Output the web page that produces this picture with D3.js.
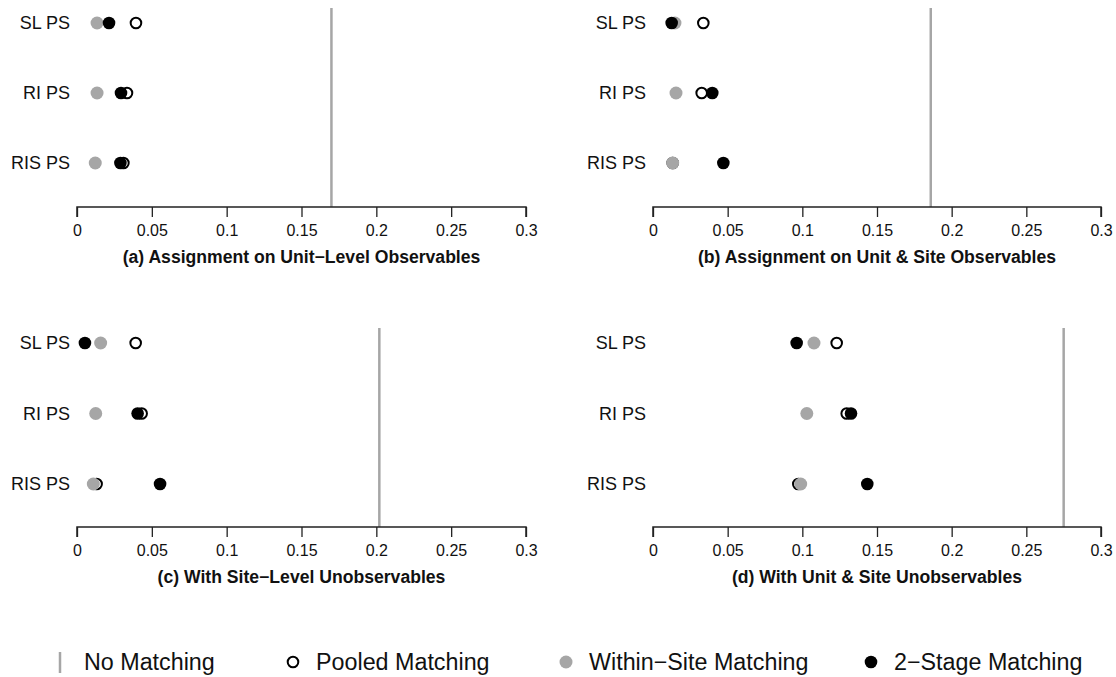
<!DOCTYPE html>
<html>
<head>
<meta charset="utf-8">
<script src="https://cdn.jsdelivr.net/npm/d3@7"></script>
<style>
  body { margin: 0; background: #fff; }
  svg { font-family: "Liberation Sans", Arial, Helvetica, sans-serif; }
</style>
</head>
<body>
<div id="chart"></div>
<script>
// datos
var methods = ["SL PS", "RI PS", "RIS PS"];
var panelTitles = [
    "(a) Assignment on Unit\u2212Level Observables",
    "(b) Assignment on Unit & Site Observables",
    "(c) With Site\u2212Level Unobservables",
    "(d) With Unit & Site Unobservables"
];
var noMatching = [0.170, 0.186, 0.202, 0.275];
// one array per panel, rows follow methods order
var pooled = [
    [0.0394, 0.0334, 0.0310],
    [0.0337, 0.0326, 0.0132],
    [0.0392, 0.0432, 0.0131],
    [0.1230, 0.1297, 0.0973]
];
var withinSite = [
    [0.0134, 0.0134, 0.0122],
    [0.0147, 0.0154, 0.0132],
    [0.0158, 0.0125, 0.0109],
    [0.1078, 0.1030, 0.0989]
];
var twoStage = [
    [0.0214, 0.0294, 0.0290],
    [0.0125, 0.0397, 0.0471],
    [0.0053, 0.0405, 0.0555],
    [0.0962, 0.1326, 0.1435]
];
var xTicks = [0, 0.05, 0.1, 0.15, 0.2, 0.25, 0.3];
var legendLabels = ["No Matching", "Pooled Matching", "Within\u2212Site Matching", "2\u2212Stage Matching"];

var grey = "#a6a6a6";
var W = 1116, H = 677;

var svg = d3.select("#chart").append("svg")
    .attr("width", W)
    .attr("height", H);

// posicion de cada panel
var panels = [
    {left: 77, right: 526, top: 8, rowTop: 23, rowBottom: 163, axisY: 207},
    {left: 653, right: 1101, top: 8, rowTop: 23, rowBottom: 163, axisY: 207},
    {left: 77, right: 526, top: 328, rowTop: 343, rowBottom: 484, axisY: 527},
    {left: 653, right: 1101, top: 328, rowTop: 343, rowBottom: 484, axisY: 527}
];

panels.forEach(function (p, i) {
    var x = d3.scaleLinear().domain([0, 0.3]).range([p.left, p.right]);
    var y = d3.scalePoint().domain(methods).range([p.rowTop, p.rowBottom]);
    var g = svg.append("g");

    // no matching line
    g.append("line")
        .attr("x1", x(noMatching[i])).attr("x2", x(noMatching[i]))
        .attr("y1", p.top).attr("y2", p.axisY)
        .attr("stroke", grey).attr("stroke-width", 2.5);

    // eje
    var axis = g.append("g")
        .attr("transform", "translate(0," + p.axisY + ")")
        .call(d3.axisBottom(x).tickValues(xTicks).tickSize(10).tickPadding(8)
            .tickFormat(function (d) { return d3.format("")(+d.toFixed(2)); }));
    axis.select(".domain").attr("stroke", "#222").attr("stroke-width", 1.5)
        .attr("d", "M" + p.left + ",10V0H" + p.right + "V10");
    axis.selectAll(".tick line").attr("stroke", "#222").attr("stroke-width", 1.3);
    axis.selectAll(".tick text").attr("font-size", 16).attr("fill", "#111")
        .attr("font-family", "Liberation Sans, Arial, sans-serif");

    // row labels
    g.selectAll(".rowlab").data(methods).enter().append("text")
        .attr("x", p.left - 7)
        .attr("y", function (d) { return y(d); })
        .attr("dy", "0.36em")
        .attr("text-anchor", "end")
        .attr("font-size", 18)
        .attr("fill", "#111")
        .text(function (d) { return d; });

    // puntos: pooled, within-site, 2-stage (black on top)
    g.selectAll(".pooled").data(pooled[i]).enter().append("circle")
        .attr("cx", function (d) { return x(d); })
        .attr("cy", function (d, j) { return y(methods[j]); })
        .attr("r", 5.3)
        .attr("fill", "none").attr("stroke", "#000").attr("stroke-width", 2);
    g.selectAll(".within").data(withinSite[i]).enter().append("circle")
        .attr("cx", function (d) { return x(d); })
        .attr("cy", function (d, j) { return y(methods[j]); })
        .attr("r", 6.5)
        .attr("fill", grey);
    g.selectAll(".two").data(twoStage[i]).enter().append("circle")
        .attr("cx", function (d) { return x(d); })
        .attr("cy", function (d, j) { return y(methods[j]); })
        .attr("r", 6.3)
        .attr("fill", "#000");

    // titulo
    g.append("text")
        .attr("x", (p.left + p.right) / 2)
        .attr("y", p.axisY + 56)
        .attr("text-anchor", "middle")
        .attr("font-size", 17.6)
        .attr("font-weight", "bold")
        .attr("fill", "#111")
        .text(panelTitles[i]);
});

// leyenda
var legY = 662;
var legSym = [60, 293, 566, 871];
var lg = svg.append("g");
lg.append("line")
    .attr("x1", legSym[0]).attr("x2", legSym[0])
    .attr("y1", legY - 10).attr("y2", legY + 11)
    .attr("stroke", grey).attr("stroke-width", 2.5);
lg.append("circle").attr("cx", legSym[1]).attr("cy", legY).attr("r", 5.3)
    .attr("fill", "none").attr("stroke", "#000").attr("stroke-width", 2);
lg.append("circle").attr("cx", legSym[2]).attr("cy", legY).attr("r", 6.5).attr("fill", grey);
lg.append("circle").attr("cx", legSym[3]).attr("cy", legY).attr("r", 6.3).attr("fill", "#000");
lg.selectAll(".ltxt").data(legendLabels).enter().append("text")
    .attr("x", function (d, i) { return legSym[i] + (i === 0 ? 24 : 23); })
    .attr("y", legY)
    .attr("dy", "0.36em")
    .attr("font-size", 23.3)
    .attr("fill", "#111")
    .text(function (d) { return d; });
</script>
</body>
</html>
